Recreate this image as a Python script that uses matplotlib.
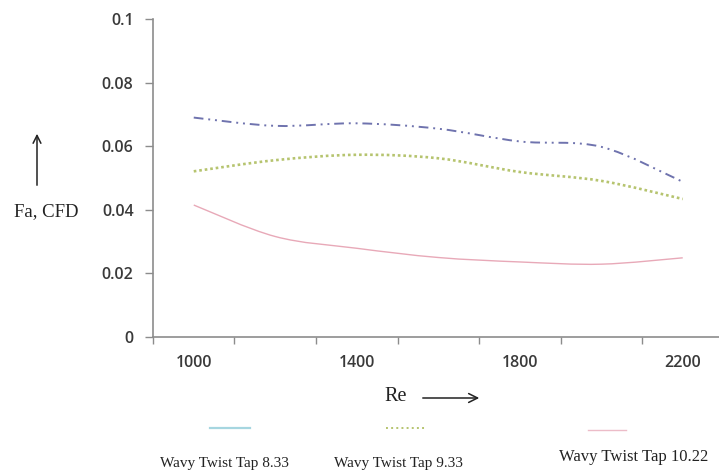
import matplotlib
matplotlib.use('Agg')
import matplotlib.pyplot as plt
import numpy as np
from matplotlib.path import Path
from matplotlib.patches import PathPatch, FancyArrowPatch
from matplotlib.lines import Line2D

# data
re_vals = [1000, 1200, 1400, 1600, 1800, 2000, 2200]
tap_833 = [0.0690, 0.0664, 0.0672, 0.0655, 0.0615, 0.0598, 0.0488]
tap_933 = [0.0521, 0.0556, 0.0573, 0.0562, 0.0519, 0.0491, 0.0434]
tap_1022 = [0.0415, 0.0316, 0.0279, 0.0250, 0.0236, 0.0229, 0.0249]
series_names = ['Wavy Twist Tap 8.33', 'Wavy Twist Tap 9.33', 'Wavy Twist Tap 10.22']
re_labels = [1000, 1400, 1800, 2200]


def smooth_path(x, y):
    ''' Excel-like smoothed line: Catmull-Rom segments as cubic Beziers '''
    p = np.column_stack([x, y]).astype(float)
    ext = np.vstack([p[0], p, p[-1]])
    verts = [p[0]]
    codes = [Path.MOVETO]
    for i in range(len(p) - 1):
        p0, p1, p2, p3 = ext[i], ext[i + 1], ext[i + 2], ext[i + 3]
        c1 = p1 + (p2 - p0) / 6.0
        c2 = p2 - (p3 - p1) / 6.0
        verts += [c1, c2, p2]
        codes += [Path.CURVE4] * 3
    return Path(verts, codes)


def plot_data():
    fig = plt.figure(figsize=(7.19, 4.73), dpi=100)
    ax = fig.add_axes([153 / 719, 136 / 473, 570.5 / 719, 318 / 473])

    blue = '#6f73ae'
    green = '#b6c46f'
    pink = '#e8a9b8'

    ax.add_patch(PathPatch(smooth_path(re_vals, tap_833), fill=False, edgecolor=blue,
                           lw=1.4, linestyle=(0, (5, 2.5, 1, 2.5, 1, 2.5)), capstyle='butt'))
    ax.add_patch(PathPatch(smooth_path(re_vals, tap_933), fill=False, edgecolor=green,
                           lw=1.9, linestyle=(0, (1, 1.1)), capstyle='butt'))
    ax.add_patch(PathPatch(smooth_path(re_vals, tap_1022), fill=False, edgecolor=pink,
                           lw=1.0))

    ax.set_xlim(900, 2300)
    ax.set_ylim(0, 0.1)
    ax.set_yticks([0, 0.02, 0.04, 0.06, 0.08, 0.1])
    ax.set_yticklabels(['0', '0.02', '0.04', '0.06', '0.08', '0.1'])
    ax.set_xticks(re_labels)
    ax.set_xticklabels([str(v) for v in re_labels])
    ax.set_xticks(np.arange(900, 2301, 200), minor=True)

    for s in ['top', 'right']:
        ax.spines[s].set_visible(False)
    for s in ['left', 'bottom']:
        ax.spines[s].set_color('#8c8c8c')
        ax.spines[s].set_linewidth(1.2)

    ax.tick_params(axis='y', length=6, width=1, color='#8c8c8c', pad=8)
    ax.tick_params(axis='x', which='major', length=0, pad=13)
    ax.tick_params(axis='x', which='minor', length=5, width=1, color='#8c8c8c')
    for lab in ax.get_xticklabels() + ax.get_yticklabels():
        lab.set_fontfamily('Open Sans')
        lab.set_fontweight('semibold')
        lab.set_fontsize(11.5)
        lab.set_color('#3a3a3a')

    serif = 'Liberation Serif'
    # axis titles with arrows
    fig.text(46 / 719, 1 - 212 / 473, 'Fa, CFD', family=serif, fontsize=13.5,
             ha='center', va='center', color='#222222')
    fig.add_artist(FancyArrowPatch(
        (37 / 719, 1 - 188 / 473), (37 / 719, 1 - 131 / 473), transform=fig.transFigure,
        arrowstyle='->', mutation_scale=14, lw=1.1, color='#222222'))
    fig.text(396 / 719, 1 - 396 / 473, 'Re', family=serif, fontsize=14.5,
             ha='center', va='center', color='#222222')
    fig.add_artist(FancyArrowPatch(
        (420 / 719, 1 - 398 / 473), (482 / 719, 1 - 398 / 473), transform=fig.transFigure,
        arrowstyle='->', mutation_scale=16, lw=1.1, color='#222222'))

    # legend: keys above the labels, spread across the bottom
    keys = [('#a6d6e0', '-', 1.6, 210, 250, 428),
            (green, ':', 1.4, 386, 426, 428),
            ('#ecbcc8', '-', 1.0, 588, 626, 430)]
    for (c, ls, lw, x0, x1, y) in keys:
        fig.add_artist(Line2D([x0 / 719, x1 / 719], [1 - y / 473, 1 - y / 473],
                              transform=fig.transFigure, color=c, ls=ls, lw=lw))
    label_pos = [(224, 463, 11), (398, 463, 11), (634, 457, 12)]
    for name, (x, y, fs) in zip(series_names, label_pos):
        fig.text(x / 719, 1 - y / 473, name, family=serif, fontsize=fs,
                 ha='center', va='center', color='#222222')

    plt.savefig('out.png', dpi=100)


if __name__ == "__main__":
    plot_data()
